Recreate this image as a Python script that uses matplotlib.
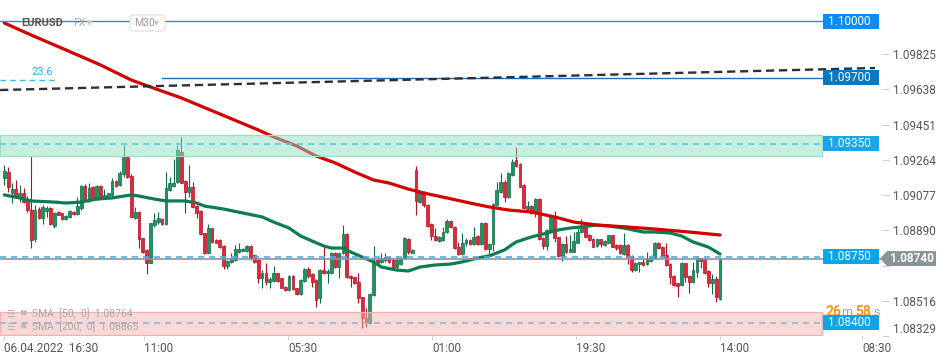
import matplotlib
matplotlib.use("Agg")
import matplotlib.pyplot as plt
from matplotlib.patches import Rectangle, Polygon, FancyBboxPatch
import numpy as np

plt.rcParams['font.family'] = ['Roboto', 'DejaVu Sans']

# ---------------- data (EURUSD, M30 candles) ----------------
opens = [1.09166, 1.09202, 1.09090, 1.09108, 1.09060, 1.09087, 1.09057, 1.08998, 1.08842, 1.09002,
         1.08954, 1.08995, 1.09007, 1.08915, 1.08988, 1.08980, 1.08949, 1.08959, 1.08988, 1.08977,
         1.09007, 1.09126, 1.09055, 1.09122, 1.09055, 1.09126, 1.09060, 1.09069, 1.09078, 1.09152,
         1.09129, 1.09188, 1.09281, 1.09179, 1.08957, 1.08989, 1.08848, 1.08786, 1.08719, 1.08919,
         1.08936, 1.08949, 1.08924, 1.09104, 1.09127, 1.09145, 1.09308, 1.09152, 1.09096, 1.09119,
         1.09019, 1.08995, 1.08874, 1.08772, 1.08901, 1.08839, 1.08839, 1.08807, 1.08701, 1.08720,
         1.08733, 1.08773, 1.08782, 1.08782, 1.08807, 1.08759, 1.08733, 1.08639, 1.08662, 1.08618,
         1.08623, 1.08662, 1.08635, 1.08591, 1.08572, 1.08648, 1.08582, 1.08550, 1.08623, 1.08683,
         1.08658, 1.08626, 1.08529, 1.08680, 1.08662, 1.08662, 1.08772, 1.08694, 1.08768, 1.08871,
         1.08650, 1.08641, 1.08618, 1.08534, 1.08423, 1.08400, 1.08547, 1.08733, 1.08724, 1.08733,
         1.08745, 1.08733, 1.08697, 1.08711, 1.08742, 1.08844, 1.08772, 1.09211, 1.09042, 1.09096,
         1.09025, 1.08922, 1.08860, 1.08835, 1.08839, 1.08883, 1.08942, 1.08910, 1.08803, 1.08765,
         1.08821, 1.08839, 1.08816, 1.08860, 1.08818, 1.08931, 1.08789, 1.08818, 1.09025, 1.09096,
         1.09149, 1.09069, 1.09184, 1.09264, 1.09241, 1.09131, 1.09002, 1.09019, 1.08984, 1.09055,
         1.08848, 1.08807, 1.08892, 1.08959, 1.08853, 1.08754, 1.08818, 1.08777, 1.08777, 1.08825,
         1.08880, 1.08910, 1.08865, 1.08842, 1.08807, 1.08842, 1.08812, 1.08825, 1.08864, 1.08812,
         1.08812, 1.08765, 1.08812, 1.08754, 1.08680, 1.08711, 1.08722, 1.08711, 1.08729, 1.08745,
         1.08825, 1.08803, 1.08759, 1.08711, 1.08648, 1.08609, 1.08600, 1.08715, 1.08648, 1.08618,
         1.08671, 1.08742, 1.08736, 1.08676, 1.08612, 1.08630, 1.08524]
highs = [1.09237, 1.09228, 1.09143, 1.09157, 1.09131, 1.09113, 1.09073, 1.09285, 1.09025, 1.09012,
         1.09025, 1.09019, 1.09012, 1.08989, 1.08991, 1.08984, 1.08972, 1.08998, 1.08991, 1.09069,
         1.09131, 1.09134, 1.09140, 1.09126, 1.09129, 1.09129, 1.09108, 1.09090, 1.09170, 1.09157,
         1.09205, 1.09343, 1.09285, 1.09188, 1.09016, 1.08993, 1.08851, 1.08789, 1.08931, 1.08984,
         1.08989, 1.08954, 1.09202, 1.09175, 1.09267, 1.09343, 1.09388, 1.09157, 1.09237, 1.09149,
         1.09025, 1.08998, 1.08878, 1.08924, 1.08904, 1.08842, 1.08842, 1.08812, 1.08733, 1.08768,
         1.08812, 1.08821, 1.08795, 1.08812, 1.08811, 1.08761, 1.08736, 1.08680, 1.08719, 1.08644,
         1.08701, 1.08665, 1.08639, 1.08595, 1.08651, 1.08651, 1.08586, 1.08630, 1.08688, 1.08694,
         1.08662, 1.08630, 1.08683, 1.08800, 1.08683, 1.08777, 1.08777, 1.08777, 1.08919, 1.08878,
         1.08653, 1.08644, 1.08662, 1.08538, 1.08476, 1.08556, 1.08807, 1.08742, 1.08768, 1.08768,
         1.08754, 1.08742, 1.08754, 1.08750, 1.08857, 1.08851, 1.08789, 1.09232, 1.09096, 1.09101,
         1.09030, 1.08927, 1.08901, 1.08860, 1.08910, 1.08949, 1.08945, 1.08913, 1.08830, 1.08874,
         1.08848, 1.08844, 1.08910, 1.08865, 1.08934, 1.08934, 1.08825, 1.09034, 1.09149, 1.09196,
         1.09157, 1.09202, 1.09267, 1.09334, 1.09246, 1.09136, 1.09048, 1.09025, 1.09060, 1.09060,
         1.08853, 1.08896, 1.08966, 1.08995, 1.08857, 1.08821, 1.08860, 1.08865, 1.08883, 1.08913,
         1.08949, 1.08913, 1.08871, 1.08848, 1.08846, 1.08846, 1.08839, 1.08867, 1.08867, 1.08816,
         1.08816, 1.08874, 1.08816, 1.08757, 1.08720, 1.08724, 1.08736, 1.08773, 1.08759, 1.08828,
         1.08830, 1.08807, 1.08821, 1.08715, 1.08651, 1.08612, 1.08722, 1.08719, 1.08653, 1.08724,
         1.08754, 1.08745, 1.08742, 1.08680, 1.08658, 1.08648, 1.08745]
lows = [1.09131, 1.09096, 1.09034, 1.09060, 1.09042, 1.09037, 1.08989, 1.08795, 1.08830, 1.08949,
        1.08922, 1.08963, 1.08919, 1.08901, 1.08970, 1.08945, 1.08945, 1.08954, 1.08972, 1.08972,
        1.08998, 1.09048, 1.09042, 1.09055, 1.09051, 1.09055, 1.09055, 1.09065, 1.09073, 1.09122,
        1.09126, 1.09175, 1.09168, 1.08959, 1.08949, 1.08795, 1.08772, 1.08657, 1.08715, 1.08910,
        1.08924, 1.08919, 1.08919, 1.09099, 1.09122, 1.09140, 1.09140, 1.08984, 1.09069, 1.09007,
        1.08957, 1.08865, 1.08765, 1.08768, 1.08825, 1.08821, 1.08795, 1.08683, 1.08683, 1.08715,
        1.08729, 1.08772, 1.08779, 1.08777, 1.08733, 1.08719, 1.08609, 1.08582, 1.08600, 1.08582,
        1.08618, 1.08618, 1.08582, 1.08568, 1.08568, 1.08573, 1.08547, 1.08547, 1.08618, 1.08635,
        1.08591, 1.08485, 1.08503, 1.08658, 1.08609, 1.08658, 1.08688, 1.08635, 1.08765, 1.08635,
        1.08591, 1.08605, 1.08503, 1.08370, 1.08379, 1.08393, 1.08542, 1.08715, 1.08715, 1.08724,
        1.08715, 1.08688, 1.08683, 1.08706, 1.08736, 1.08765, 1.08768, 1.08972, 1.09034, 1.09016,
        1.08910, 1.08839, 1.08835, 1.08830, 1.08835, 1.08878, 1.08901, 1.08789, 1.08759, 1.08759,
        1.08807, 1.08812, 1.08811, 1.08812, 1.08812, 1.08786, 1.08765, 1.08782, 1.09019, 1.09090,
        1.09042, 1.09060, 1.09179, 1.09225, 1.09119, 1.09002, 1.08998, 1.08977, 1.08959, 1.08839,
        1.08789, 1.08786, 1.08883, 1.08830, 1.08750, 1.08729, 1.08768, 1.08773, 1.08773, 1.08821,
        1.08874, 1.08853, 1.08835, 1.08800, 1.08803, 1.08803, 1.08807, 1.08821, 1.08800, 1.08786,
        1.08765, 1.08759, 1.08711, 1.08671, 1.08676, 1.08671, 1.08703, 1.08706, 1.08724, 1.08740,
        1.08789, 1.08747, 1.08701, 1.08605, 1.08595, 1.08538, 1.08595, 1.08618, 1.08556, 1.08612,
        1.08644, 1.08688, 1.08658, 1.08588, 1.08552, 1.08511, 1.08520]
closes = [1.09207, 1.09122, 1.09108, 1.09073, 1.09087, 1.09042, 1.08998, 1.08839, 1.08998, 1.08954,
          1.09016, 1.09011, 1.08922, 1.08980, 1.08973, 1.08949, 1.08966, 1.08993, 1.08977, 1.09019,
          1.09126, 1.09051, 1.09113, 1.09058, 1.09126, 1.09058, 1.09078, 1.09087, 1.09152, 1.09126,
          1.09196, 1.09281, 1.09172, 1.08963, 1.08989, 1.08842, 1.08777, 1.08719, 1.08927, 1.08945,
          1.08954, 1.08924, 1.09113, 1.09143, 1.09143, 1.09317, 1.09143, 1.09096, 1.09119, 1.09012,
          1.08984, 1.08871, 1.08772, 1.08901, 1.08830, 1.08825, 1.08800, 1.08701, 1.08727, 1.08742,
          1.08789, 1.08791, 1.08791, 1.08807, 1.08742, 1.08724, 1.08639, 1.08662, 1.08618, 1.08632,
          1.08665, 1.08623, 1.08586, 1.08572, 1.08648, 1.08577, 1.08550, 1.08626, 1.08683, 1.08648,
          1.08618, 1.08520, 1.08680, 1.08662, 1.08676, 1.08772, 1.08694, 1.08772, 1.08871, 1.08641,
          1.08635, 1.08612, 1.08529, 1.08423, 1.08400, 1.08552, 1.08724, 1.08719, 1.08745, 1.08750,
          1.08724, 1.08694, 1.08733, 1.08742, 1.08848, 1.08777, 1.08786, 1.09048, 1.09087, 1.09025,
          1.08915, 1.08860, 1.08839, 1.08853, 1.08883, 1.08942, 1.08906, 1.08795, 1.08765, 1.08825,
          1.08839, 1.08816, 1.08857, 1.08818, 1.08931, 1.08789, 1.08818, 1.09030, 1.09104, 1.09149,
          1.09069, 1.09193, 1.09255, 1.09232, 1.09122, 1.09007, 1.09019, 1.08984, 1.09055, 1.08842,
          1.08807, 1.08892, 1.08959, 1.08848, 1.08754, 1.08818, 1.08777, 1.08789, 1.08834, 1.08883,
          1.08910, 1.08857, 1.08839, 1.08803, 1.08842, 1.08818, 1.08835, 1.08864, 1.08803, 1.08795,
          1.08768, 1.08812, 1.08750, 1.08680, 1.08715, 1.08722, 1.08706, 1.08736, 1.08750, 1.08825,
          1.08795, 1.08750, 1.08706, 1.08641, 1.08600, 1.08595, 1.08715, 1.08644, 1.08618, 1.08680,
          1.08742, 1.08729, 1.08665, 1.08612, 1.08630, 1.08534, 1.08740]

# moving averages (bar index -> value)
sma50_bars = [1, 5, 8, 14, 17, 21, 25, 29, 34, 36, 40, 43, 48, 51, 53, 58, 63, 68, 71, 75, 78, 81,
              84, 86, 89, 91, 94, 97, 99, 103, 106, 109, 113, 117, 120, 124, 127, 131, 134, 138,
              141, 145, 148, 151, 155, 158, 162, 167, 170, 174, 177, 180, 184, 187]
sma50_vals = [1.09078, 1.09062, 1.09046, 1.09040, 1.09035, 1.09040, 1.09056, 1.09062, 1.09078,
              1.09072, 1.09056, 1.09046, 1.09046, 1.09035, 1.09019, 1.09003, 1.08982, 1.08961,
              1.08934, 1.08902, 1.08860, 1.08833, 1.08807, 1.08796, 1.08796, 1.08775, 1.08748,
              1.08722, 1.08695, 1.08679, 1.08674, 1.08695, 1.08706, 1.08711, 1.08722, 1.08743,
              1.08754, 1.08786, 1.08828, 1.08855, 1.08870, 1.08892, 1.08902, 1.08908, 1.08918,
              1.08913, 1.08902, 1.08881, 1.08881, 1.08876, 1.08860, 1.08828, 1.08801, 1.08764]
sma200_bars = [1, 8, 17, 26, 34, 39, 47, 67, 71, 77, 82, 87, 92, 97, 101, 106, 110, 116, 122, 127,
               132, 138, 144, 149, 155, 162, 170, 179, 187]
sma200_vals = [1.09991, 1.09927, 1.09848, 1.09768, 1.09688, 1.09651, 1.09593, 1.09423, 1.09386,
               1.09338, 1.09285, 1.09248, 1.09200, 1.09157, 1.09141, 1.09109, 1.09088, 1.09062,
               1.09035, 1.09014, 1.08998, 1.08987, 1.08961, 1.08934, 1.08918, 1.08909, 1.08897,
               1.08881, 1.08865]

# drawn objects / levels
trend_bars = [-0.1, 227.3]
trend_vals = [1.09635, 1.09752]
fib_bars = [-0.1, 15.0]
fib_level = 1.09688
fib_label = "23.6"
level_top = 1.10000
level_res = 1.09700
level_green = 1.09350
green_zone = (1.09286, 1.09396)
level_mid = 1.08750
level_red = 1.08400
red_zone = (1.08335, 1.08455)
last_price = 1.08740

ytick_vals = [1.08329, 1.08516, 1.08703, 1.08890, 1.09077, 1.09264, 1.09451, 1.09638, 1.09825]
hidden_ytick = 1.08703   # covered by the last-price marker
xtick_bars = [1.0, 37.3, 74.7, 112.2, 149.6, 187.0, 223.9]
xtick_labels = ['06.04.2022  16:30', '11:00', '05:30', '01:00', '19:30', '14:00', '08:30']

# ---------------- layout ----------------
W, H = 950, 360
AX_R, AX_B = 882, 336
PX, X0 = 3.848, 0.45          # pixels per bar, offset
PTOP, PPX = 1.10113, 0.0000531  # price at top, price per pixel

fig = plt.figure(figsize=(W / 100, H / 100), dpi=100)
fig.patch.set_facecolor('white')
ax = fig.add_axes([0, 1 - AX_B / H, AX_R / W, AX_B / H])
ax.set_xlim((0 - X0) / PX, (AX_R - X0) / PX)
ax.set_ylim(PTOP - AX_B * PPX, PTOP)
for s in ax.spines.values():
    s.set_visible(False)

def fx(px):
    return px / W

def fy(py):
    return 1 - py / H

yt = ax.get_yaxis_transform()

# ---------------- candles ----------------
o = np.array(opens); c = np.array(closes); hi = np.array(highs); lo = np.array(lows)
hi = np.maximum(hi, np.maximum(o, c)); lo = np.minimum(lo, np.minimum(o, c))
idx = np.arange(1, len(c) + 1)
up = c >= o
G_FACE, G_EDGE = '#1c9563', '#0b6b43'
R_FACE, R_EDGE = '#e0283c', '#b3101f'
faces = np.where(up, G_FACE, R_FACE)
edges = np.where(up, G_EDGE, R_EDGE)
ax.vlines(idx, lo, hi, colors=edges, lw=0.8, zorder=2)
body = c - o
body = np.where(np.abs(body) < 0.00003, np.where(up, 0.00003, -0.00003), body)
ax.bar(idx, body, bottom=o, width=0.72, color=faces, edgecolor=edges, linewidth=0.5, zorder=2.1)

# ---------------- moving averages ----------------
ax.plot(sma50_bars, sma50_vals, color='#0b7d4e', lw=2.3, zorder=3, solid_capstyle='round',
        solid_joinstyle='round')
ax.plot(sma200_bars, sma200_vals, color='#d20000', lw=2.3, zorder=3, solid_capstyle='round',
        solid_joinstyle='round')

# ---------------- zones ----------------
zr = 822 / AX_R
ax.add_patch(Rectangle((0, green_zone[0]), zr, green_zone[1] - green_zone[0], transform=yt,
                       facecolor=(145 / 255, 225 / 255, 195 / 255, 0.5), edgecolor='#9fdcc4',
                       lw=0.9, zorder=4))
ax.add_patch(Rectangle((0, red_zone[0]), zr, red_zone[1] - red_zone[0], transform=yt,
                       facecolor=(247 / 255, 179 / 255, 179 / 255, 0.5), edgecolor='#f3b0b0',
                       lw=0.9, zorder=4))

# ---------------- level lines ----------------
lr = 823 / AX_R
dash = (0, (3.6, 3.0))
ax.axhline(level_top, 0, lr, color='#1e8ff0', lw=1.0, zorder=5)
ax.axhline(level_res, 162 / AX_R, lr, color='#1f70b8', lw=1.0, zorder=5)
ax.axhline(level_green, 0, lr, color='#5cc8e8', lw=1.2, ls=dash, zorder=5)
ax.axhline(level_mid, 0, lr, color='#45b3ea', lw=1.2, ls=dash, zorder=5)
ax.axhline(level_red, 0, lr, color='#94b2d6', lw=1.2, ls=dash, zorder=5)
ax.axhline(last_price, 0, 880 / AX_R, color='#8c9497', lw=1.2, zorder=5)
ax.plot(trend_bars, trend_vals, color='#2b3035', lw=1.7, ls=(0, (3.5, 2.0)), zorder=5,
        clip_on=False)
ax.plot(fib_bars, [fib_level, fib_level], color='#3ab4f2', lw=1.0, ls=(0, (4, 3)), zorder=5)
ax.annotate(fib_label, xy=(8.0, fib_level), xytext=(0, 2.5), textcoords='offset points',
            ha='left', va='bottom', color='#2aaef0', fontsize=8, zorder=6)

# ---------------- timer (just above the 1.08400 box) ----------------
for px, txt, col, fs, fw in [(825, '26', '#f7941d', 10, 'bold'), (841, 'm', '#a0a0a0', 9, 'normal'),
                             (855, '58', '#f7941d', 10, 'bold'), (873, 's', '#a0a0a0', 9, 'normal')]:
    ax.text(fx(px), fy(316), txt, transform=fig.transFigure, color=col, fontsize=fs,
            fontweight=fw, va='baseline', ha='left', zorder=9, clip_on=False)

# ---------------- price boxes ----------------
BH = 15 * PPX
def level_box(price, color):
    ax.add_patch(Rectangle((823 / AX_R, price - BH / 2), 56 / AX_R, BH, transform=yt,
                           facecolor=color, edgecolor='none', clip_on=False, zorder=10))
    ax.text(828 / AX_R, price, f'{price:.5f}', transform=yt, color='white', fontsize=8.5,
            va='center', ha='left', clip_on=False, zorder=11)

level_box(level_top, '#0d8bf2')
level_box(level_res, '#0a78c0')
level_box(level_green, '#1aa6e8')
level_box(level_mid, '#0ea5e8')
level_box(level_red, '#0ea5e8')

pts = [(880 / AX_R, last_price), (887 / AX_R, last_price + BH / 2),
       (936 / AX_R, last_price + BH / 2), (936 / AX_R, last_price - BH / 2),
       (887 / AX_R, last_price - BH / 2)]
ax.add_patch(Polygon(pts, closed=True, transform=yt, facecolor='#8a9397', edgecolor='none',
                     clip_on=False, zorder=10))
ax.text(912 / AX_R, last_price, f'{last_price:.5f}', transform=yt, color='white', fontsize=8.5,
        fontweight='bold', va='center', ha='center', clip_on=False, zorder=11)

# ---------------- axes ticks ----------------
ax.yaxis.tick_right()
ax.set_yticks(ytick_vals, ['' if v == hidden_ytick else f'{v:.5f}' for v in ytick_vals])
ax.tick_params(axis='y', length=5, width=0.8, color='#d0d0d0', pad=3, labelsize=8.5,
               labelcolor='#555555')
ax.set_xticks(xtick_bars, xtick_labels)
for lab in ax.get_xticklabels():
    lab.set_horizontalalignment('left')
ax.tick_params(axis='x', length=3, width=0.8, color='#d0d0d0', pad=1.5, labelsize=8.5,
               labelcolor='#555555')
ylabs = ax.get_yticklabels()
ylabs[0].set_verticalalignment('bottom')

# ---------------- header ----------------
fig.text(fx(21), fy(23), 'EURUSD', fontsize=8, fontweight='bold', color='#555555', va='center')
fig.text(fx(73), fy(23), 'FX', fontsize=7.5, color='#a8a8a8', va='center')
fig.text(fx(87), fy(22), '▾', fontsize=7, color='#c4c4c4', va='center')
fig.patches.append(FancyBboxPatch((fx(130), fy(31)), 35 / W, 16 / H,
                                  boxstyle='round,pad=0,rounding_size=0.004',
                                  transform=fig.transFigure, facecolor='white',
                                  edgecolor='#dddddd', lw=0.8, figure=fig))
fig.text(fx(134), fy(23), 'M30', fontsize=7.5, color='#9a9a9a', va='center')
fig.text(fx(154), fy(22), '▾', fontsize=7, color='#c4c4c4', va='center')

# ---------------- indicator legend ----------------
for py, name, val in [(314, 'SMA  [50,  0]', sma50_vals[-1]), (327, 'SMA  [200,  0]', sma200_vals[-1])]:
    fig.text(fx(6), fy(py), '☰', fontsize=7, color='#b5b5b5', va='center')
    fig.text(fx(19), fy(py), '✖', fontsize=6.5, color='#b5b5b5', va='center')
    fig.text(fx(32), fy(py), f'{name}  {val:.5f}', fontsize=7.5, color='#a8a8a8', va='center')

fig.savefig('out.png', dpi=100, facecolor='white')
